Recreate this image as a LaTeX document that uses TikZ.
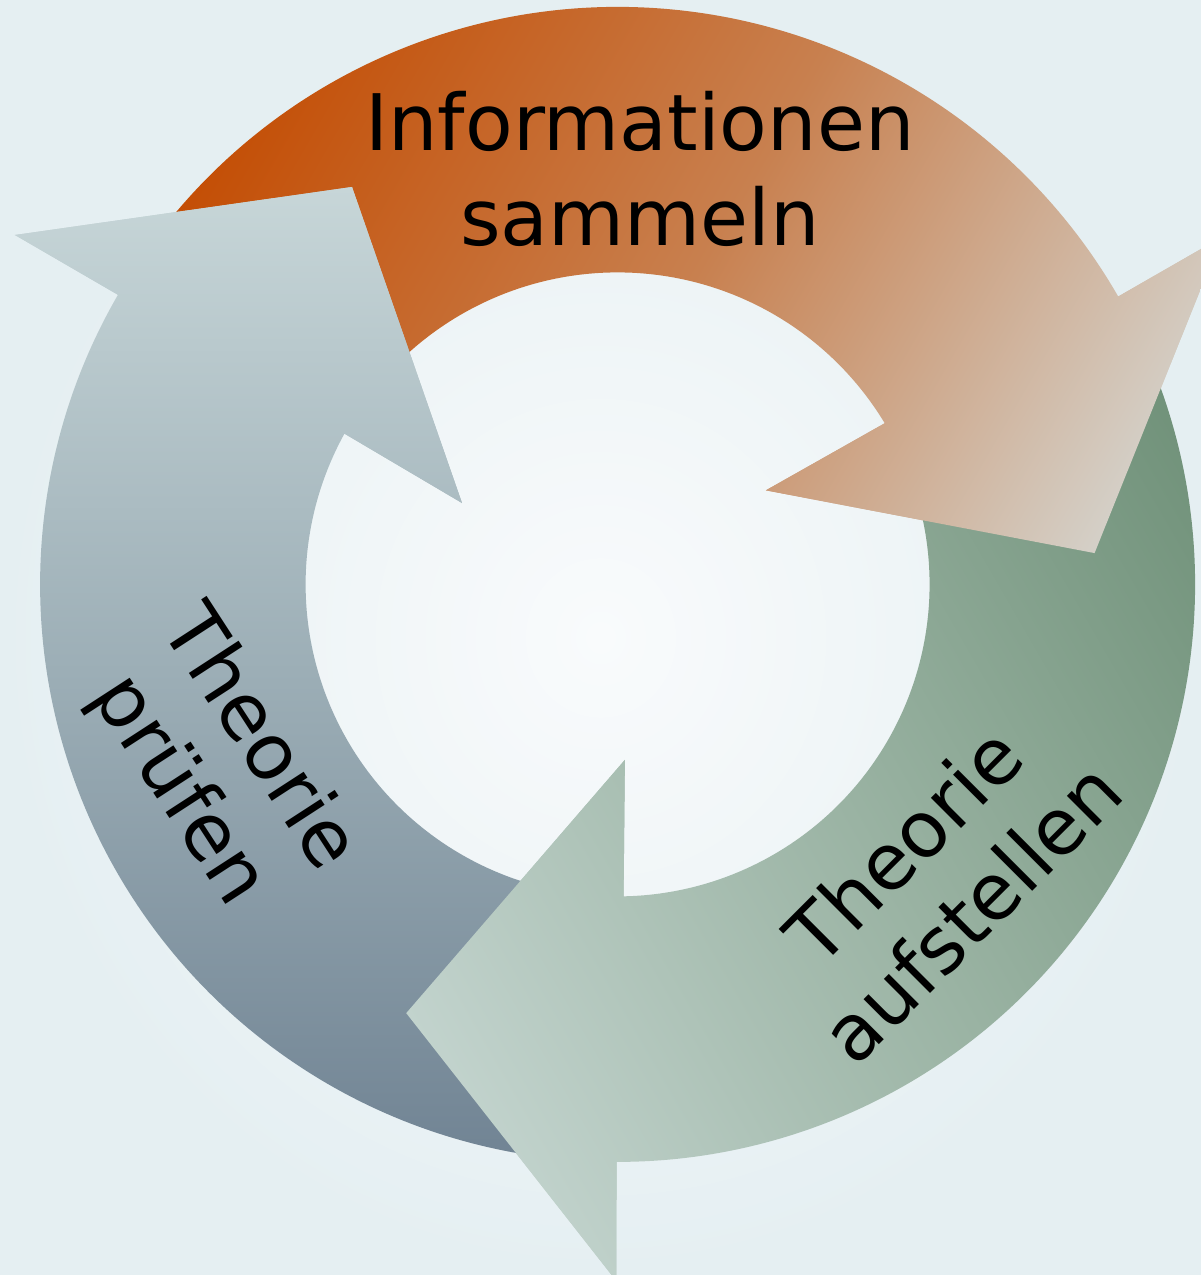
\documentclass[tikz,border=0pt]{standalone}
\usepackage{fontspec}
\setmainfont{DejaVu Sans}
\definecolor{bgin}{HTML}{F9FBFC}
\definecolor{bgout}{HTML}{E5EFF2}
\definecolor{grayL}{HTML}{C7D6D8}
\definecolor{grayM}{HTML}{9CAEB6}
\definecolor{grayD}{HTML}{718494}
\definecolor{orL}{HTML}{D4D0C8}
\definecolor{orM}{HTML}{C8804F}
\definecolor{orD}{HTML}{C44E05}
\definecolor{grL}{HTML}{C2D3CD}
\definecolor{grM}{HTML}{9AB3A3}
\definecolor{grD}{HTML}{71927A}
% one arrow in its own frame (the grey one, head at the upper left)
\newcommand\arrowfullpath{(262:577.5pt) arc[start angle=262, end angle=149.9, radius=577.5pt] -- (-602.6pt,349.4pt) -- (-265.6pt,397.4pt) -- (-155.6pt,81.4pt) -- (151.1:312pt) arc[start angle=151.1, end angle=262, radius=312pt] -- cycle}
\newcommand\arrowheadpath{(149.9:577.5pt) -- (-602.6pt,349.4pt) -- (-265.6pt,397.4pt) -- (-155.6pt,81.4pt) -- (151.1:312pt) -- cycle}
\newcommand\cyclearrow[4]{%
  \begin{scope}[transform canvas={rotate=#1}]
    \begin{scope}
      \clip \arrowfullpath;
      \shade[top color=#2, bottom color=#4, middle color=#3] (-700pt,-571.4pt) rectangle (0pt,397.4pt);
    \end{scope}
  \end{scope}}
\newcommand\cyclehead[4]{%
  \begin{scope}[transform canvas={rotate=#1}]
    \begin{scope}
      \clip \arrowheadpath;
      \shade[top color=#2, bottom color=#4, middle color=#3] (-700pt,-571.4pt) rectangle (0pt,397.4pt);
    \end{scope}
  \end{scope}}
\tikzset{lbl/.style={anchor=center, align=center, inner sep=0pt, text=black, font=\fontsize{78}{95}\selectfont}}
\begin{document}
\begin{tikzpicture}[x=1pt, y=1pt]
  \useasboundingbox (-617.6,-690.6) rectangle (583.4,584.4);
  \shade[inner color=bgin, outer color=bgout] (-617.6,-690.6) rectangle (583.4,584.4);
  % arrow bodies
  \cyclearrow{-120}{orL}{orM}{orD}
  \cyclearrow{120}{grL}{grM}{grD}
  \cyclearrow{0}{grayL}{grayM}{grayD}
  % heads on top of the tails they cover
  \cyclehead{-120}{orL}{orM}{orD}
  \cyclehead{120}{grL}{grM}{grD}
  \cyclehead{0}{grayL}{grayM}{grayD}
  % labels
  \node[lbl] (info) at (22.3,415.5) {Informationen\\sammeln};
  \node[lbl, rotate=45] (aufstellen) at (319.5,-294.1) {Theorie\\aufstellen};
  \node[lbl, rotate=-57] (pruefen) at (-399.7,-180.8) {Theorie\\prüfen};
\end{tikzpicture}
\end{document}
